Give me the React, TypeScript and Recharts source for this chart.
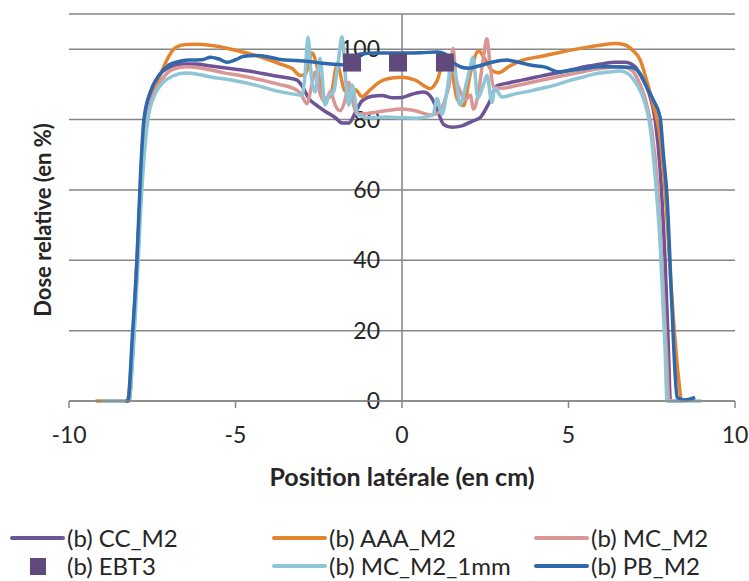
import React from "react";
import {
  ComposedChart,
  Line,
  Scatter,
  XAxis,
  YAxis,
  CartesianGrid,
  ReferenceLine,
} from "recharts";

const xTicks = [-10, -5, 0, 5, 10];
const yTicks = [0, 20, 40, 60, 80, 100];

// [position (cm), relative dose (%)]
const ccM2 = [
  [-8.3, 0], [-8.2, 0], [-8.1, 12], [-7.95, 40], [-7.8, 70], [-7.7, 82], [-7.5, 89],
  [-7.3, 92.5], [-7.0, 94.8], [-6.6, 95.8], [-6.2, 95.8], [-5.8, 95.3], [-5.4, 94.8],
  [-5.0, 94.3], [-4.6, 93.8], [-4.2, 93.1], [-3.8, 92.4], [-3.4, 91.8], [-3.15, 91.2],
  [-3.0, 89.5], [-2.8, 86], [-2.6, 84.3], [-2.3, 82.3], [-2.0, 80.5], [-1.8, 79],
  [-1.6, 79], [-1.4, 82], [-1.2, 85.3], [-0.9, 86.6], [-0.6, 86.8], [-0.3, 86.2],
  [0, 86.3], [0.3, 87.2], [0.65, 87.8], [0.9, 86], [1.05, 83], [1.25, 78.6],
  [1.5, 77.8], [1.8, 78.2], [2.1, 79.5], [2.35, 80.6], [2.6, 84.5], [2.85, 89.6],
  [3.2, 90.4], [3.6, 91.2], [4.0, 92], [4.4, 92.8], [4.8, 93.5], [5.2, 94.4],
  [5.6, 95.2], [6.0, 95.8], [6.4, 96.3], [6.7, 96.3], [7.0, 95], [7.2, 92],
  [7.4, 88], [7.6, 80], [7.75, 66], [7.9, 40], [8.0, 15], [8.06, 0], [8.4, 0],
];

const aaaM2 = [
  [-9.2, 0], [-8.25, 0], [-8.1, 15], [-7.95, 42], [-7.8, 68], [-7.65, 80], [-7.45, 88],
  [-7.2, 94], [-7.0, 98], [-6.8, 100.5], [-6.5, 101.3], [-6.1, 101.4], [-5.6, 100.9],
  [-5.0, 99.7], [-4.5, 98.5], [-4.0, 97], [-3.6, 95.6], [-3.3, 94.5], [-3.05, 92.5],
  [-2.9, 93], [-2.7, 98.9], [-2.55, 95], [-2.35, 86], [-2.15, 86.5], [-1.95, 95.5],
  [-1.7, 88], [-1.4, 88.5], [-1.2, 86.5], [-0.95, 88.5], [-0.7, 90.5], [-0.3, 91.8],
  [0, 92], [0.4, 91.2], [0.85, 88.8], [1.05, 91], [1.3, 97.5], [1.45, 96],
  [1.65, 86], [1.85, 84], [2.05, 93], [2.3, 99.5], [2.5, 97], [2.7, 94], [2.9, 93.3],
  [3.2, 95], [3.6, 96.8], [4.2, 98], [4.8, 99.2], [5.4, 100.3], [6.0, 101.2],
  [6.4, 101.6], [6.7, 101.2], [6.95, 99.5], [7.15, 97], [7.35, 91], [7.55, 84],
  [7.75, 75], [7.9, 60], [8.1, 30], [8.3, 7], [8.4, 0], [8.5, 0],
];

const mcM2 = [
  [-8.9, 0], [-8.2, 0], [-8.1, 12], [-7.95, 38], [-7.8, 65], [-7.65, 80], [-7.45, 87],
  [-7.2, 91.5], [-6.9, 94.2], [-6.5, 95], [-6.1, 94.7], [-5.7, 94], [-5.3, 93.2],
  [-4.9, 92.6], [-4.5, 91.8], [-4.1, 91], [-3.7, 90], [-3.3, 89], [-3.05, 87.5],
  [-2.85, 84.5], [-2.75, 88], [-2.6, 93.5], [-2.45, 87], [-2.3, 85], [-2.15, 88],
  [-2.0, 84], [-1.86, 82.5], [-1.7, 86], [-1.6, 90.5], [-1.45, 84], [-1.35, 81.5],
  [-1.0, 81.8], [-0.5, 82.5], [0, 83], [0.4, 82.5], [0.85, 81.3], [1.1, 82],
  [1.3, 86], [1.45, 92], [1.53, 100.3], [1.62, 92], [1.75, 88], [1.9, 85.5],
  [2.05, 87], [2.15, 83], [2.3, 88], [2.45, 98], [2.55, 103], [2.65, 95],
  [2.75, 89.2], [3.0, 88.9], [3.5, 89.8], [4.0, 90.8], [4.5, 91.8], [5.0, 92.8],
  [5.4, 93.5], [5.8, 94.3], [6.2, 94.8], [6.6, 95], [6.9, 94], [7.1, 91], [7.3, 86],
  [7.5, 77], [7.65, 64], [7.8, 40], [7.95, 12], [8.02, 0], [8.4, 0],
];

const mcM21mm = [
  [-9.0, 0], [-8.2, 0], [-8.1, 10], [-7.95, 35], [-7.8, 62], [-7.63, 80], [-7.45, 86.5],
  [-7.2, 90.3], [-6.9, 92.3], [-6.5, 93.2], [-6.1, 92.8], [-5.7, 92], [-5.3, 91.5],
  [-4.9, 90.8], [-4.5, 90], [-4.1, 89], [-3.7, 88], [-3.3, 87.3], [-3.0, 86.9],
  [-2.92, 92], [-2.82, 103.4], [-2.72, 92], [-2.61, 87.8], [-2.46, 97.4],
  [-2.31, 84.1], [-2.2, 86.5], [-2.05, 88], [-1.92, 96], [-1.8, 103.5], [-1.68, 90],
  [-1.6, 84.1], [-1.5, 89.8], [-1.32, 81.3], [-0.96, 80.5], [-0.5, 80.7], [0, 80.5],
  [0.45, 80.4], [0.93, 81.3], [1.05, 86], [1.2, 81.5], [1.35, 88], [1.47, 95],
  [1.59, 93.5], [1.74, 84.1], [1.9, 89], [2.05, 95], [2.13, 97.7], [2.28, 86.1],
  [2.45, 90], [2.55, 92.6], [2.7, 84.9], [2.79, 88.9], [3.0, 86.4], [3.4, 87.3],
  [3.8, 88], [4.2, 88.9], [4.6, 89.8], [5.0, 91], [5.4, 92], [5.8, 93], [6.2, 93.5],
  [6.55, 93.8], [6.85, 92.5], [7.05, 90], [7.25, 86], [7.45, 78], [7.6, 64],
  [7.75, 45], [7.9, 15], [7.96, 0], [9.0, 0],
];

const pbM2 = [
  [-8.3, 0], [-8.23, 0], [-8.1, 18], [-7.96, 40], [-7.85, 65], [-7.75, 80], [-7.55, 88],
  [-7.3, 92.5], [-7.0, 95.5], [-6.7, 96.5], [-6.4, 96.9], [-6.0, 97], [-5.75, 97.7],
  [-5.5, 97.2], [-5.25, 96.3], [-5.0, 97], [-4.75, 98], [-4.4, 98.2], [-4.0, 97.8],
  [-3.6, 97], [-3.2, 96.8], [-2.8, 96.5], [-2.4, 96], [-2.0, 95.7], [-1.75, 95.5],
  [-1.5, 97], [-1.25, 98.6], [-0.8, 98.9], [-0.3, 98.9], [0.2, 98.9], [0.6, 99],
  [1.05, 99.2], [1.3, 98.6], [1.5, 96.5], [1.75, 95], [2.0, 94.6], [2.3, 95.2],
  [2.7, 96.3], [3.15, 96.9], [3.5, 96.3], [3.85, 95.5], [4.3, 94.9], [4.7, 93.6],
  [5.1, 94], [5.5, 94.5], [5.9, 95], [6.3, 95], [6.9, 94.8], [7.15, 93], [7.35, 89.2],
  [7.55, 85.5], [7.75, 80.7], [7.85, 70], [7.96, 58], [8.1, 28], [8.2, 8], [8.26, 1],
  [8.5, 0.3], [8.8, 1],
];

const ebt3 = [
  [-1.5, 96.2], [-0.12, 96.2], [1.29, 96.2],
];

const toPts = (arr: number[][]) => arr.map(([x, y]) => ({ x, y }));

const lineSeries = [
  { name: "(b) CC_M2", data: ccM2, color: "#6E5497" },
  { name: "(b) AAA_M2", data: aaaM2, color: "#E4842F" },
  { name: "(b) MC_M2", data: mcM2, color: "#D99694" },
  { name: "(b) MC_M2_1mm", data: mcM21mm, color: "#8EC6D8" },
  { name: "(b) PB_M2", data: pbM2, color: "#2F69AD" },
];

const legendItems = [
  { name: "(b) CC_M2", color: "#6E5497", square: false },
  { name: "(b) AAA_M2", color: "#E4842F", square: false },
  { name: "(b) MC_M2", color: "#D99694", square: false },
  { name: "(b) EBT3", color: "#604A7B", square: true },
  { name: "(b) MC_M2_1mm", color: "#8EC6D8", square: false },
  { name: "(b) PB_M2", color: "#2F69AD", square: false },
];

const FONT = "Lato, 'DejaVu Sans', sans-serif";
const GRAY = "#868686";
const TEXT = "#262626";

const PLOT_LEFT = 69;
const PLOT_RIGHT = 735;
const ZERO_X = (PLOT_LEFT + PLOT_RIGHT) / 2;

const XTick = (props: any) => {
  const { x, y, payload } = props;
  return (
    <text x={x} y={y + 33} textAnchor="middle" fontFamily={FONT} fontSize={23} fill={TEXT}>
      {payload.value}
    </text>
  );
};

// y tick labels sit next to the vertical axis at x = 0
const yLabel = (v: number) => (props: any) => {
  const vb = props.viewBox || {};
  return (
    <text x={ZERO_X - 22} y={vb.y + 8} textAnchor="end" fontFamily={FONT} fontSize={23} fill={TEXT}>
      {v}
    </text>
  );
};

const Square = (props: any) => {
  const { cx, cy } = props;
  return <rect x={cx - 9} y={cy - 9} width={18} height={18} fill="#604A7B" />;
};

const App = () => {
  return (
    <div style={{ position: "absolute", left: 0, top: 0, width: 749, height: 581, background: "#fff", overflow: "hidden" }}>
      <ComposedChart
        width={749}
        height={500}
        margin={{ top: 14, right: 749 - PLOT_RIGHT, left: PLOT_LEFT, bottom: 0 }}
      >
        <CartesianGrid vertical={false} stroke={GRAY} strokeWidth={1.5} />
        <XAxis
          type="number"
          dataKey="x"
          domain={[-10, 10]}
          ticks={xTicks}
          height={99}
          stroke={GRAY}
          strokeWidth={1.5}
          tickSize={7}
          tick={<XTick />}
        />
        <YAxis
          type="number"
          dataKey="y"
          domain={[0, 110]}
          ticks={yTicks}
          hide
        />
        <ReferenceLine x={0} stroke={GRAY} strokeWidth={1.5} />
        {yTicks.map((v) => (
          <ReferenceLine key={"yl" + v} y={v} stroke="none" label={yLabel(v)} />
        ))}
        {lineSeries.map((s) => (
          <Line
            key={s.name}
            data={toPts(s.data)}
            dataKey="y"
            name={s.name}
            type="monotone"
            stroke={s.color}
            strokeWidth={3.5}
            dot={false}
            isAnimationActive={false}
          />
        ))}
        <Scatter
          data={toPts(ebt3)}
          dataKey="y"
          name="(b) EBT3"
          shape={<Square />}
          isAnimationActive={false}
        />
      </ComposedChart>

      <div
        style={{
          position: "absolute",
          left: 42,
          top: 220,
          transform: "translate(-50%, -50%) rotate(-90deg)",
          whiteSpace: "nowrap",
          fontFamily: FONT,
          fontWeight: 700,
          fontSize: 22,
          color: TEXT,
        }}
      >
        Dose relative (en %)
      </div>
      <div
        style={{
          position: "absolute",
          left: ZERO_X,
          top: 476,
          transform: "translate(-50%, -50%)",
          whiteSpace: "nowrap",
          fontFamily: FONT,
          fontWeight: 700,
          fontSize: 25,
          color: TEXT,
        }}
      >
        Position latérale (en cm)
      </div>

      <div
        style={{
          position: "absolute",
          left: 10,
          top: 524,
          width: 790,
          display: "flex",
          flexWrap: "wrap",
          fontFamily: FONT,
          fontSize: 24,
          lineHeight: "26px",
          color: TEXT,
        }}
      >
        {legendItems.map((it) => (
          <div key={it.name} style={{ width: 262, height: 28, display: "flex", alignItems: "center" }}>
            <div style={{ width: 55, height: 26, display: "flex", alignItems: "center", justifyContent: "center", marginRight: 2 }}>
              {it.square ? (
                <div style={{ width: 16, height: 17, background: it.color }} />
              ) : (
                <div style={{ width: 55, height: 4, background: it.color, borderRadius: 2 }} />
              )}
            </div>
            <span style={{ whiteSpace: "nowrap" }}>{it.name}</span>
          </div>
        ))}
      </div>
    </div>
  );
};

export default App;
